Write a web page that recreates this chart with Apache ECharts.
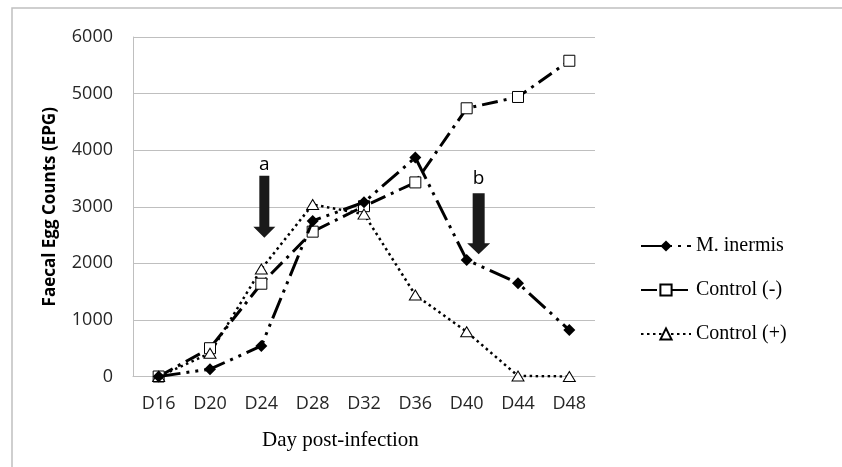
<!DOCTYPE html>
<html>
<head>
<meta charset="utf-8">
<script src="https://cdn.jsdelivr.net/npm/echarts@6/dist/echarts.min.js"></script>
<style>
  html, body { margin: 0; padding: 0; background: #fff; }
  #main { width: 842px; height: 467px; }
</style>
</head>
<body>
<div id="main"></div>
<script>
  // categories and values
  const days = ['D16', 'D20', 'D24', 'D28', 'D32', 'D36', 'D40', 'D44', 'D48']
  const inermis = [0, 130, 540, 2750, 3080, 3870, 2060, 1650, 820]
  const controlNeg = [0, 500, 1640, 2560, 3010, 3430, 4740, 4940, 5580]
  const controlPos = [0, 410, 1900, 3040, 2870, 1440, 790, 10, 0]
  const yTicks = [0, 6000, 1000] // min, max, step
  // treatment arrows (a, b)
  const arrows = [
    { name: 'a', day: 'D24', value: 3000 },
    { name: 'b', day: 'D40', value: 2700 }
  ]

  const arrowA = 'path://M6,0 L16,0 L16,51 L22,51 L11,62 L0,51 L6,51 Z'
  const arrowB = 'path://M5.5,0 L17.5,0 L17.5,50 L23,50 L11.5,61 L0,50 L5.5,50 Z'

  const tickFont = { fontFamily: 'Open Sans', fontSize: 18, color: '#262626' }

  const option = {
    animation: false,
    backgroundColor: '#fff',
    grid: { left: 133, right: 247, top: 37, bottom: 90.5 },
    legend: {
      orient: 'vertical',
      left: 635,
      top: 231,
      itemWidth: 50,
      itemHeight: 14,
      itemGap: 24,
      textStyle: { fontFamily: 'Liberation Serif', fontSize: 20, color: '#000' },
      data: ['M. inermis', 'Control (-)', 'Control (+)']
    },
    xAxis: {
      type: 'category',
      data: days,
      boundaryGap: true,
      axisLine: { lineStyle: { color: '#bfbfbf', width: 1 } },
      axisTick: { show: false },
      axisLabel: { ...tickFont, margin: 18 }
    },
    yAxis: {
      type: 'value',
      min: yTicks[0],
      max: yTicks[1],
      interval: yTicks[2],
      name: 'Faecal Egg Counts (EPG)',
      nameLocation: 'middle',
      nameRotate: 90,
      nameGap: 74,
      nameTextStyle: { fontFamily: 'Open Sans', fontWeight: 'bold', fontSize: 17, color: '#000' },
      axisLine: { show: true, lineStyle: { color: '#bfbfbf', width: 1 } },
      axisTick: { show: false },
      splitLine: { lineStyle: { color: '#bfbfbf', width: 1 } },
      axisLabel: { ...tickFont, margin: 20, formatter: v => String(v) }
    },
    graphic: [
      {
        type: 'rect',
        shape: { x: 12, y: 8, width: 900, height: 500 },
        style: { fill: 'none', stroke: '#c0c0c0', lineWidth: 1.5 },
        silent: true
      },
      {
        type: 'text',
        left: 262,
        top: 430,
        style: {
          text: 'Day post-infection',
          font: '21px "Liberation Serif"',
          fill: '#000'
        }
      }
    ],
    series: [
      {
        name: 'M. inermis',
        type: 'line',
        data: inermis,
        symbol: 'diamond',
        symbolSize: 12,
        itemStyle: { color: '#000' },
        lineStyle: { color: '#000', width: 3, type: [22, 6, 3, 6, 3, 6] },
        markPoint: {
          data: arrows.map((a, i) => ({
            name: a.name,
            coord: [a.day, a.value],
            symbol: i === 0 ? arrowA : arrowB,
            symbolSize: i === 0 ? [22, 62] : [23, 61],
            symbolOffset: i === 0 ? [3, 0] : [12, 0],
            label: { distance: i === 0 ? 2 : 5 }
          })),
          itemStyle: { color: '#1a1a1a' },
          label: {
            show: true,
            position: 'top',
            formatter: '{b}',
            fontFamily: 'Open Sans',
            fontSize: 19,
            color: '#000'
          }
        },
        z: 3
      },
      {
        name: 'Control (-)',
        type: 'line',
        data: controlNeg,
        symbol: 'rect',
        symbolSize: 11,
        itemStyle: { color: '#fff', borderColor: '#000', borderWidth: 1 },
        lineStyle: { color: '#000', width: 3, type: [16, 6, 3, 6] },
        z: 2
      },
      {
        name: 'Control (+)',
        type: 'line',
        data: controlPos,
        symbol: 'triangle',
        symbolSize: [12, 10],
        itemStyle: { color: '#fff', borderColor: '#000', borderWidth: 1 },
        lineStyle: { color: '#000', width: 2.5, type: [2.5, 3.5] },
        z: 2
      }
    ]
  }

  const chartDom = document.getElementById('main')
  const myChart = echarts.init(chartDom)
  myChart.setOption(option)
</script>
</body>
</html>
